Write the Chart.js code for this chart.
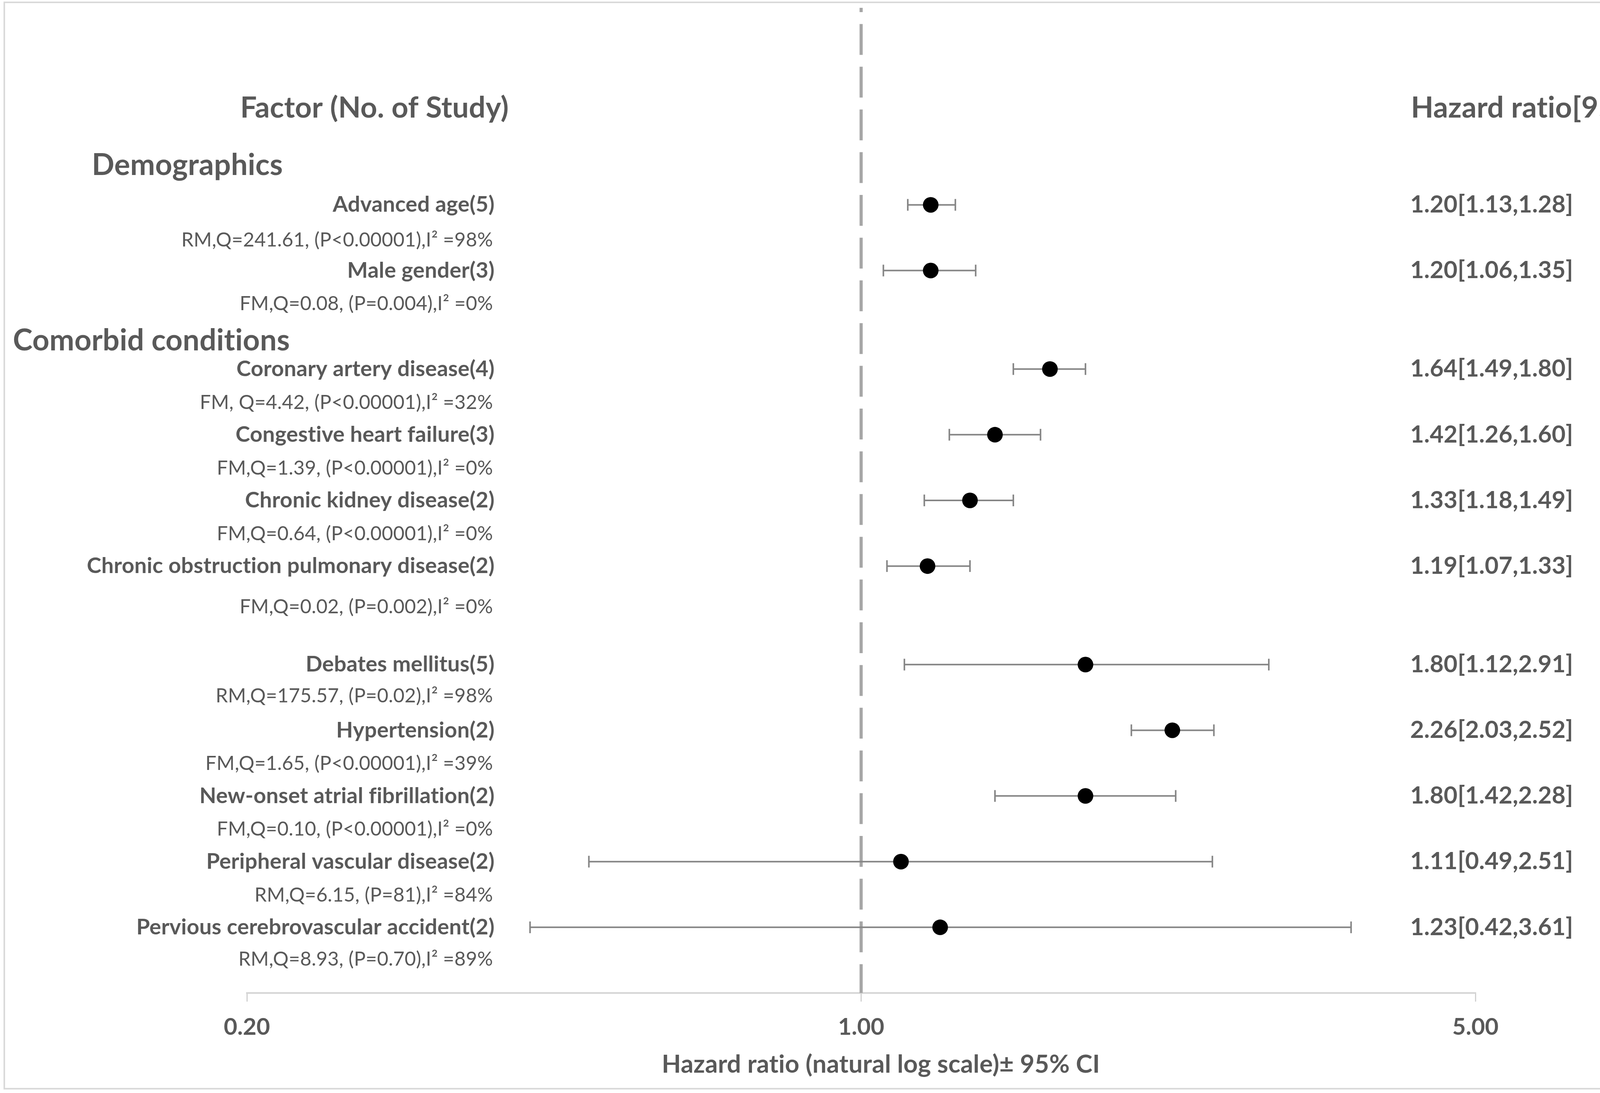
<!DOCTYPE html>
<html>
<head>
<meta charset="utf-8">
<title>Forest plot</title>
<script src="https://cdn.jsdelivr.net/npm/chart.js@4.4.1/dist/chart.umd.min.js"></script>
<style>
    html, body { margin: 0; padding: 0; background: #fff; }
    #wrap { width: 4328px; height: 2798px; position: relative; }
</style>
</head>
<body>
<div id="wrap"><canvas id="forestChart"></canvas></div>
<script>
// rows of the plot (top to bottom)
const factors = [
    'Advanced age(5)',
    'Male gender(3)',
    'Coronary artery disease(4)',
    'Congestive heart failure(3)',
    'Chronic kidney disease(2)',
    'Chronic obstruction pulmonary disease(2)',
    'Debates mellitus(5)',
    'Hypertension(2)',
    'New-onset atrial fibrillation(2)',
    'Peripheral vascular disease(2)',
    'Pervious cerebrovascular accident(2)',
];
const stats = [
    'RM,Q=241.61, (P<0.00001),I\u00B2 =98%',
    'FM,Q=0.08, (P=0.004),I\u00B2 =0%',
    'FM, Q=4.42, (P<0.00001),I\u00B2 =32%',
    'FM,Q=1.39, (P<0.00001),I\u00B2 =0%',
    'FM,Q=0.64, (P<0.00001),I\u00B2 =0%',
    'FM,Q=0.02, (P=0.002),I\u00B2 =0%',
    'RM,Q=175.57, (P=0.02),I\u00B2 =98%',
    'FM,Q=1.65, (P<0.00001),I\u00B2 =39%',
    'FM,Q=0.10, (P<0.00001),I\u00B2 =0%',
    'RM,Q=6.15, (P=81),I\u00B2 =84%',
    'RM,Q=8.93, (P=0.70),I\u00B2 =89%',
];
const hazard = [1.20, 1.20, 1.64, 1.42, 1.33, 1.19, 1.80, 2.26, 1.80, 1.11, 1.23];
const lower  = [1.13, 1.06, 1.49, 1.26, 1.18, 1.07, 1.12, 2.03, 1.42, 0.49, 0.42];
const upper  = [1.28, 1.35, 1.80, 1.60, 1.49, 1.33, 2.91, 2.52, 2.28, 2.51, 3.61];
// row slot of every factor on the y scale (gaps between blocks)
const rowPos = [0, 1, 2.5, 3.5, 4.5, 5.5, 7, 8, 9, 10, 11];

const groupNames = ['Demographics', 'Comorbid conditions'];
const groupRows = [-0.6, 2.07];

const xTicks = [0.2, 1, 5];
const refValue = 1;

// layout only: how far below its label each stats line sits (in rows)
const statsGap = [0.54, 0.51, 0.51, 0.51, 0.51, 0.62, 0.48, 0.51, 0.51, 0.51, 0.49];

const TEXT_COLOR = '#595959';
const FONT = 'Lato';

const fmt = (v) => Number(v).toFixed(2);

const forestText = {
    id: 'forestText',
    beforeDraw(chart) {
        const { ctx } = chart;
        ctx.save();
        ctx.fillStyle = '#fff';
        ctx.fillRect(0, 0, chart.width, chart.height);
        ctx.strokeStyle = '#d9d9d9';
        ctx.lineWidth = 4;
        ctx.strokeRect(11, 6, 4294, 2781);
        ctx.restore();
    },
    afterDraw(chart) {
        const { ctx } = chart;
        const yScale = chart.scales.y;
        ctx.save();
        ctx.fillStyle = TEXT_COLOR;
        ctx.textBaseline = 'middle';
        ctx.textRendering = 'optimizeSpeed';
        ctx.letterSpacing = '0.2px';

        // column headers
        ctx.font = `bold 75px ${FONT}`;
        ctx.textAlign = 'left';
        ctx.fillText('Factor (No. of Study)', 615, yScale.getPixelForValue(-1.47));
        ctx.fillText('Hazard ratio[95%CI]', 3612, yScale.getPixelForValue(-1.47));

        // group headings
        ctx.font = `bold 76px ${FONT}`;
        ctx.fillText(groupNames[0], 235, yScale.getPixelForValue(groupRows[0]));
        ctx.fillText(groupNames[1], 33, yScale.getPixelForValue(groupRows[1]));

        factors.forEach((name, i) => {
            const y = yScale.getPixelForValue(rowPos[i]);
            ctx.textAlign = 'right';
            ctx.font = `bold 56px ${FONT}`;
            ctx.fillText(name, 1266, y);
            ctx.font = `50px ${FONT}`;
            ctx.fillText(stats[i], 1262, yScale.getPixelForValue(rowPos[i] + statsGap[i]));

            ctx.textAlign = 'left';
            ctx.font = `bold 61px ${FONT}`;
            ctx.fillText(`${fmt(hazard[i])}[${fmt(lower[i])},${fmt(upper[i])}]`, 3610, y);
        });

        // x axis title
        ctx.textAlign = 'center';
        ctx.font = `bold 64px ${FONT}`;
        ctx.fillText('Hazard ratio (natural log scale)\u00B1 95% CI', 2255, 2725);
        ctx.restore();
    }
};

const buildDatasets = () => {
    const sets = [];
    sets.push({
        label: 'HR',
        data: hazard.map((v, i) => ({ x: v, y: rowPos[i] })),
        pointRadius: 20,
        pointBackgroundColor: '#000',
        pointBorderWidth: 0,
        showLine: false,
    });
    factors.forEach((name, i) => {
        sets.push({
            label: name,
            data: [{ x: lower[i], y: rowPos[i] }, { x: upper[i], y: rowPos[i] }],
            showLine: true,
            borderColor: '#858585',
            borderWidth: 4,
            pointStyle: 'line',
            pointRotation: 90,
            pointRadius: 15,
            pointBorderWidth: 4,
            pointBorderColor: '#858585',
        });
    });
    sets.push({
        label: 'ref',
        data: [{ x: refValue, y: -3 }, { x: refValue, y: 12 }],
        showLine: true,
        borderColor: '#a6a6a6',
        borderWidth: 8,
        borderDash: [79, 30.4],
        borderDashOffset: 68,
        borderCapStyle: 'butt',
        pointRadius: 0,
    });
    return sets;
};

const renderChart = () => {
    const chartEle = document.getElementById('forestChart');
    new Chart(chartEle, {
        type: 'scatter',
        data: { datasets: buildDatasets() },
        options: {
            responsive: true,
            maintainAspectRatio: false,
            devicePixelRatio: 1,
            animation: false,
            layout: { padding: { left: 632, right: 551, top: 14, bottom: 0 } },
            plugins: {
                legend: { display: false },
                tooltip: { enabled: false },
            },
            scales: {
                x: {
                    type: 'logarithmic',
                    min: 0.2,
                    max: 5,
                    afterBuildTicks: (s) => { s.ticks = xTicks.map(v => ({ value: v })); },
                    afterFit: (s) => { s.height = 256; },
                    ticks: {
                        callback: (v) => fmt(v),
                        autoSkip: false,
                        maxRotation: 0,
                        padding: 30,
                        color: TEXT_COLOR,
                        font: { family: FONT, weight: 'bold', size: 60 },
                    },
                    grid: {
                        drawOnChartArea: false,
                        drawTicks: true,
                        tickLength: 22,
                        color: '#d0d0d0',
                        lineWidth: 3,
                    },
                    border: { display: true, color: '#d4d4d4', width: 4 },
                },
                y: {
                    type: 'linear',
                    reverse: true,
                    min: -3,
                    max: 12,
                    display: false,
                },
            },
        },
        plugins: [forestText],
    });
};

(() => {
    const loads = ['bold 60px Lato', '50px Lato'].map(f => document.fonts.load(f));
    Promise.all(loads).then(renderChart, renderChart);
})();
</script>
</body>
</html>
